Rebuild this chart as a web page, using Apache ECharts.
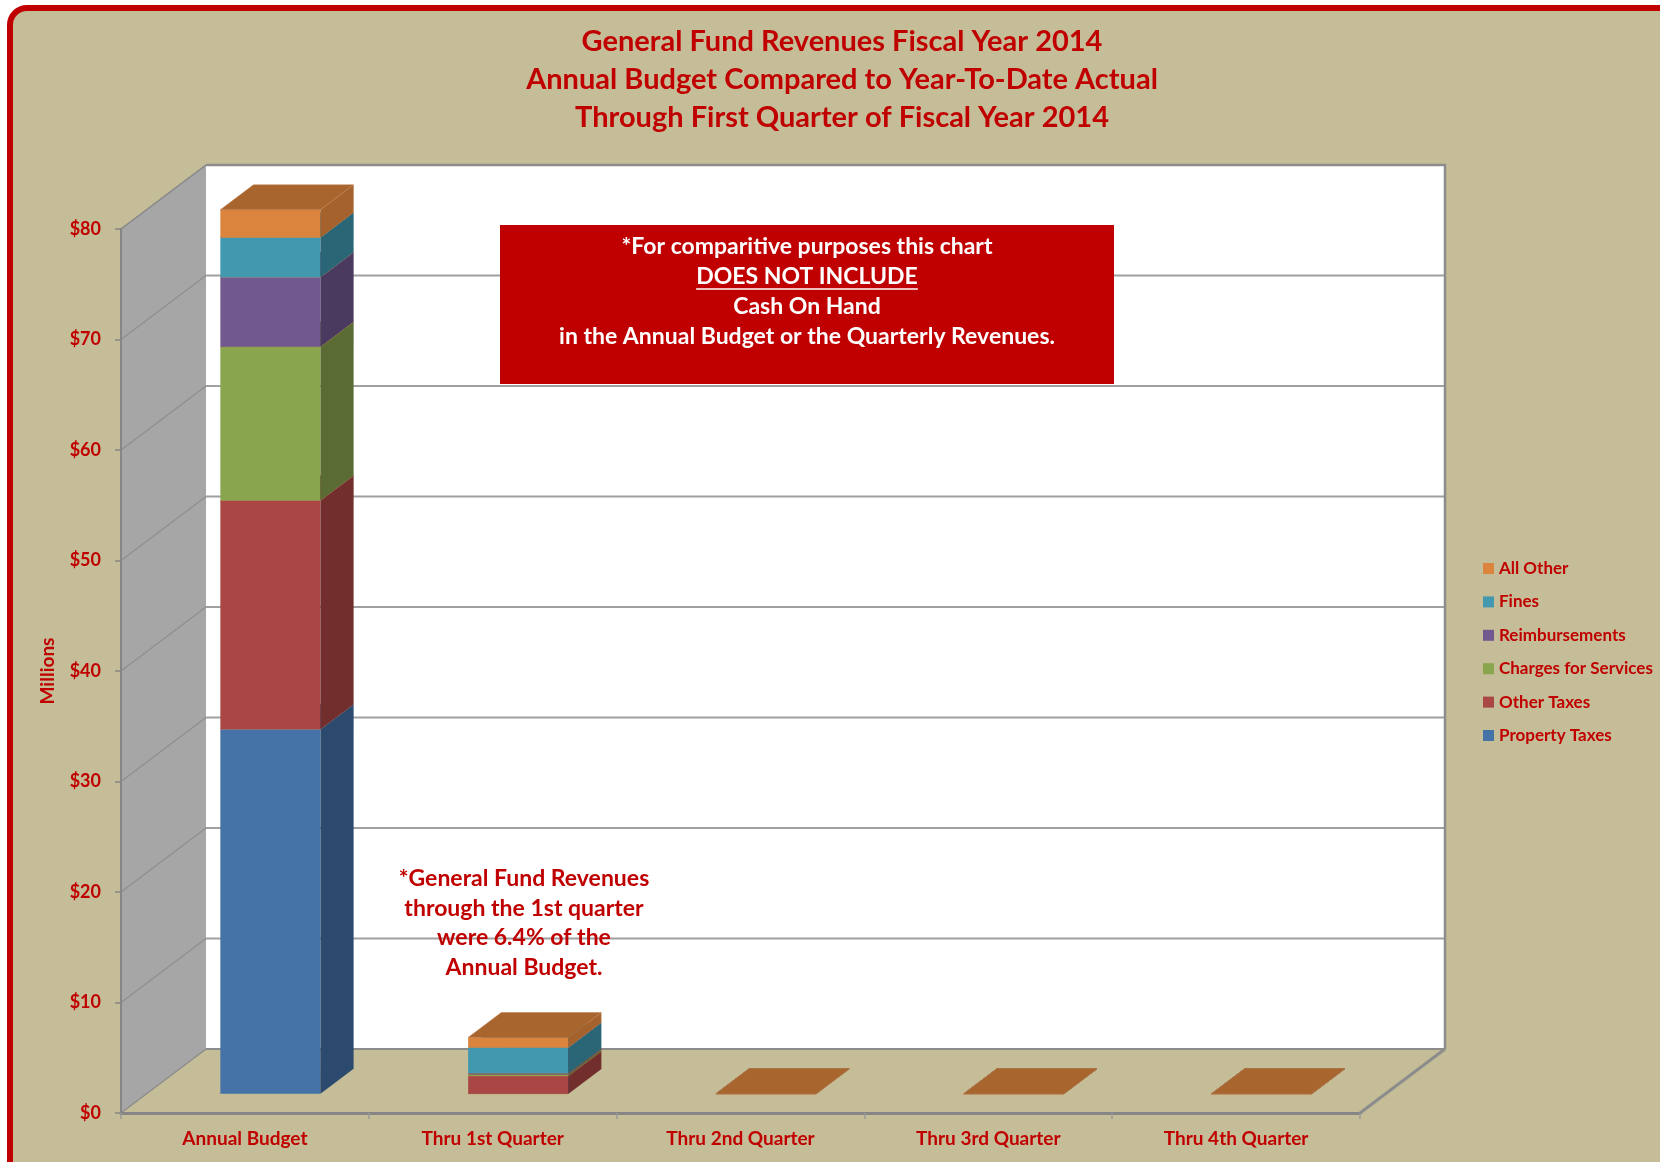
<!DOCTYPE html>
<html>
<head>
<meta charset="utf-8">
<title>General Fund Revenues Fiscal Year 2014</title>
<script src="https://cdn.jsdelivr.net/npm/echarts@6/dist/echarts.min.js"></script>
<style>
  html, body { margin: 0; padding: 0; background: #ffffff; overflow: hidden; }
  #frame {
    position: absolute; left: 7px; top: 5px; width: 1720px; height: 1220px;
    border: 6px solid #C00000; border-radius: 20px; background: #C4BD97;
  }
  #chart { position: absolute; left: 0; top: 0; width: 1660px; height: 1162px; }
</style>
</head>
<body>
<div id="frame"></div>
<div id="chart"></div>
<script>
// Revenue categories (x axis) and amounts in millions of dollars
const categories = ['Annual Budget', 'Thru 1st Quarter', 'Thru 2nd Quarter', 'Thru 3rd Quarter', 'Thru 4th Quarter'];
const propertyTaxes      = [33.0, 0,    0, 0, 0];
const otherTaxes         = [20.7, 1.6,  0, 0, 0];
const chargesForServices = [13.9, 0.15, 0, 0, 0];
const reimbursements     = [6.3,  0.1,  0, 0, 0];
const fines              = [3.6,  2.35, 0, 0, 0];
const allOther           = [2.5,  0.9,  0, 0, 0];
const yTicks = [0, 10, 20, 30, 40, 50, 60, 70, 80];

const titleLines = ['General Fund Revenues Fiscal Year 2014',
                    'Annual Budget Compared to Year-To-Date Actual',
                    'Through First Quarter of Fiscal Year 2014'];
const boxLines = ['*For comparitive purposes this chart', 'DOES NOT INCLUDE', 'Cash On Hand',
                  'in the Annual Budget or the Quarterly Revenues.'];
const noteLines = ['*General Fund Revenues', 'through the 1st quarter', 'were 6.4% of the', 'Annual Budget.'];

const RED = '#C00000';
const FONT = 'Lato, "Open Sans", "Noto Sans", sans-serif';

// 3-D projection: offset of the back plane relative to the front plane
const DEPTH_X = 85, DEPTH_Y = -64;
// Bars sit between these fractions of the floor depth
const BAR_FRONT = 0.3, BAR_BACK = 0.69;
const BAR_WIDTH = 0.404; // fraction of the category band

const seriesDefs = [
  { name: 'Property Taxes',       values: propertyTaxes,      front: '#4572A7', side: '#2C4A6D', top: '#3A6090' },
  { name: 'Other Taxes',          values: otherTaxes,         front: '#AA4643', side: '#722D2D', top: '#8F3B39' },
  { name: 'Charges for Services', values: chargesForServices, front: '#89A54E', side: '#5A6C33', top: '#718A40' },
  { name: 'Reimbursements',       values: reimbursements,     front: '#71588F', side: '#4A3A5F', top: '#5E4A78' },
  { name: 'Fines',                values: fines,              front: '#4198AF', side: '#2A6675', top: '#357F93' },
  { name: 'All Other',            values: allOther,           front: '#DB843D', side: '#A5622C', top: '#A8652E' }
];

function makeBoxRenderer(def) {
  return function (params, api) {
    const cat = api.value(0);
    const lo = api.coord([cat, api.value(1)]);
    const hi = api.coord([cat, api.value(2)]);
    const bw = api.size([1, 0])[0] * BAR_WIDTH;
    const ox = DEPTH_X * BAR_FRONT, oy = DEPTH_Y * BAR_FRONT;
    const dx = DEPTH_X * (BAR_BACK - BAR_FRONT), dy = DEPTH_Y * (BAR_BACK - BAR_FRONT);
    const x0 = lo[0] - bw / 2 + ox, x1 = x0 + bw;
    const yb = lo[1] + oy, yt = hi[1] + oy;
    const children = [];
    if (yb - yt > 0.01) {
      children.push({
        type: 'polygon',
        shape: { points: [[x0, yt], [x1, yt], [x1, yb], [x0, yb]] },
        style: { fill: def.front }
      });
      children.push({
        type: 'polygon',
        shape: { points: [[x1, yt], [x1 + dx, yt + dy], [x1 + dx, yb + dy], [x1, yb]] },
        style: { fill: def.side }
      });
    }
    children.push({
      type: 'polygon',
      shape: { points: [[x0, yt], [x1, yt], [x1 + dx, yt + dy], [x0 + dx, yt + dy]] },
      style: { fill: def.top, stroke: 'rgba(190,120,70,0.6)', lineWidth: 0.8 }
    });
    return { type: 'group', children: children };
  };
}

// Side wall, back wall, floor and their gridlines
function renderWalls(params, api) {
  const cs = params.coordSys;
  const xl = cs.x, xr = cs.x + cs.width;
  const yOf = v => api.coord([0, v])[1];
  const y0 = yOf(yTicks[0]);
  const yMax = yOf(yTicks[yTicks.length - 1]);
  const edge = '#8C8C8C';
  const ch = [];
  // side wall
  ch.push({ type: 'polygon', shape: { points: [[xl, yMax], [xl + DEPTH_X, yMax + DEPTH_Y], [xl + DEPTH_X, y0 + DEPTH_Y], [xl, y0]] },
            style: { fill: '#A6A6A6' } });
  // back wall
  ch.push({ type: 'polygon', shape: { points: [[xl + DEPTH_X, yMax + DEPTH_Y], [xr + DEPTH_X, yMax + DEPTH_Y], [xr + DEPTH_X, y0 + DEPTH_Y], [xl + DEPTH_X, y0 + DEPTH_Y]] },
            style: { fill: '#FFFFFF' } });
  // gridlines
  yTicks.forEach(v => {
    if (v === yTicks[0]) return;
    const y = yOf(v);
    ch.push({ type: 'line', shape: { x1: xl, y1: y, x2: xl + DEPTH_X, y2: y + DEPTH_Y },
              style: { stroke: '#8E8E8E', lineWidth: 1.2 } });
    if (v !== yTicks[yTicks.length - 1]) {
      ch.push({ type: 'line', shape: { x1: xl + DEPTH_X, y1: y + DEPTH_Y, x2: xr + DEPTH_X, y2: y + DEPTH_Y },
                style: { stroke: '#A0A0A0', lineWidth: 2 } });
    }
  });
  // back wall border
  ch.push({ type: 'polyline', shape: { points: [[xl + DEPTH_X, yMax + DEPTH_Y], [xr + DEPTH_X, yMax + DEPTH_Y], [xr + DEPTH_X, y0 + DEPTH_Y]] },
            style: { stroke: edge, lineWidth: 2.5, fill: null } });
  // floor
  ch.push({ type: 'polygon', shape: { points: [[xl, y0], [xr, y0], [xr + DEPTH_X, y0 + DEPTH_Y], [xl + DEPTH_X, y0 + DEPTH_Y]] },
            style: { fill: '#C4BD97' } });
  ch.push({ type: 'line', shape: { x1: xl + DEPTH_X, y1: y0 + DEPTH_Y, x2: xr + DEPTH_X, y2: y0 + DEPTH_Y },
            style: { stroke: edge, lineWidth: 2 } });
  ch.push({ type: 'line', shape: { x1: xr, y1: y0, x2: xr + DEPTH_X, y2: y0 + DEPTH_Y },
            style: { stroke: edge, lineWidth: 3 } });
  ch.push({ type: 'line', shape: { x1: xl, y1: y0, x2: xl + DEPTH_X, y2: y0 + DEPTH_Y },
            style: { stroke: edge, lineWidth: 1.5 } });
  // side wall top edge
  ch.push({ type: 'line', shape: { x1: xl, y1: yMax, x2: xl + DEPTH_X, y2: yMax + DEPTH_Y },
            style: { stroke: edge, lineWidth: 1.5 } });
  return { type: 'group', children: ch };
}

// Stack the segments of each column
const bases = categories.map(() => 0);
const barSeries = seriesDefs.map(def => {
  const data = def.values.map((v, i) => {
    const b = bases[i];
    bases[i] += v;
    return [i, b, b + v];
  });
  return {
    type: 'custom',
    name: def.name,
    coordinateSystem: 'cartesian2d',
    clip: false,
    z: 3,
    itemStyle: { color: def.front },
    encode: { x: 0, y: [1, 2] },
    renderItem: makeBoxRenderer(def),
    data: data
  };
});

// Text width helper for the underline
function textWidth(text, font) {
  const ctx = document.createElement('canvas').getContext('2d');
  ctx.font = font;
  return ctx.measureText(text).width;
}

const noteFont = 'bold 23px ' + FONT;
const titleFont = 'bold 29px ' + FONT;
const underlineW = textWidth(boxLines[1], noteFont);

const graphics = [];
titleLines.forEach((t, i) => {
  graphics.push({ type: 'text', z: 51, x: 842, y: 42 + i * 38,
    style: { text: t, fill: RED, font: titleFont, align: 'center', verticalAlign: 'middle' } });
});
graphics.push({ type: 'rect', z: 50, shape: { x: 500, y: 225, width: 614, height: 159 }, style: { fill: RED } });
boxLines.forEach((t, i) => {
  graphics.push({ type: 'text', z: 51, x: 807, y: 247 + i * 30,
    style: { text: t, fill: '#FFFFFF', font: noteFont, align: 'center', verticalAlign: 'middle' } });
});
graphics.push({ type: 'line', z: 51, shape: { x1: 807 - underlineW / 2, y1: 289, x2: 807 + underlineW / 2, y2: 289 },
                style: { stroke: '#FFFFFF', lineWidth: 1.6 } });
noteLines.forEach((t, i) => {
  graphics.push({ type: 'text', z: 51, x: 524, y: 878.5 + i * 29.6,
    style: { text: t, fill: RED, font: noteFont, align: 'center', verticalAlign: 'middle' } });
});

const chart = echarts.init(document.getElementById('chart'));
chart.setOption({
  backgroundColor: 'transparent',
  animation: false,
  legend: {
    orient: 'vertical',
    left: 1483,
    top: 560,
    padding: 0,
    itemWidth: 11,
    itemHeight: 11,
    itemGap: 16.4,
    icon: 'rect',
    data: seriesDefs.map(d => d.name).reverse(),
    textStyle: { color: RED, fontFamily: FONT, fontWeight: 'bold', fontSize: 17, lineHeight: 16 }
  },
  grid: { left: 121, top: 229, right: 300, bottom: 49, containLabel: false },
  xAxis: {
    type: 'category',
    data: categories,
    z: 5,
    axisLine: { show: true, lineStyle: { color: '#868686', width: 3 } },
    axisTick: { show: true, length: 6, lineStyle: { color: '#9A9A9A', width: 1.5 } },
    axisLabel: { color: RED, fontFamily: FONT, fontWeight: 'bold', fontSize: 19, margin: 16 },
    splitLine: { show: false }
  },
  yAxis: {
    type: 'value',
    min: 0,
    max: 80,
    interval: 10,
    z: 5,
    name: 'Millions',
    nameLocation: 'middle',
    nameRotate: 90,
    nameGap: 64,
    nameTextStyle: { color: RED, fontFamily: FONT, fontWeight: 'bold', fontSize: 19 },
    axisLine: { show: true, lineStyle: { color: '#868686', width: 2 } },
    axisTick: { show: true, length: 6, lineStyle: { color: '#868686', width: 1.5 } },
    axisLabel: { color: RED, fontFamily: FONT, fontWeight: 'bold', fontSize: 18, margin: 20,
                 formatter: v => '$' + v },
    splitLine: { show: false }
  },
  graphic: graphics,
  series: [
    {
      type: 'custom',
      name: 'walls',
      coordinateSystem: 'cartesian2d',
      clip: false,
      silent: true,
      z: 1,
      renderItem: renderWalls,
      data: [[0, 0]]
    }
  ].concat(barSeries)
});
</script>
</body>
</html>
